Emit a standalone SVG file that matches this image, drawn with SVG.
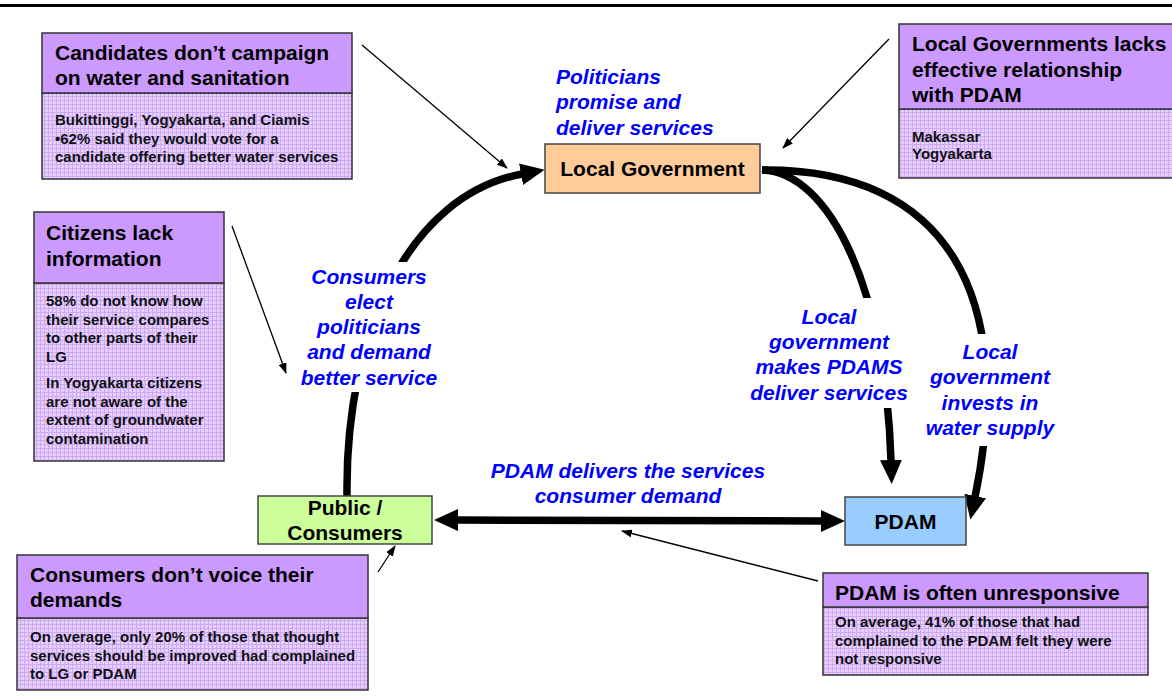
<svg xmlns="http://www.w3.org/2000/svg" width="1172" height="700" viewBox="0 0 1172 700">
  <style>
    .hdr { fill: #CC99FF; stroke: #333; stroke-width: 1.5; }
    .body { fill: url(#grid); stroke: #333; stroke-width: 1.5; }
    .ttl { font-family: "Liberation Sans", Arial, sans-serif; font-weight: bold; font-size: 21px; fill: #000; }
    .txt { font-family: "Liberation Sans", Arial, sans-serif; font-weight: bold; font-size: 15px; fill: #111; }
    .node { stroke: #444; stroke-width: 1.5; }
    .ntxt { font-family: "Liberation Sans", Arial, sans-serif; font-weight: bold; font-size: 21px; fill: #000; text-anchor: middle; }
    .lbl { font-family: "Liberation Sans", Arial, sans-serif; font-weight: bold; font-style: italic; font-size: 21px; fill: #0000FF; }
    .mid { text-anchor: middle; }
    .thick { fill: none; stroke: #000; stroke-width: 7.5; }
    .thin { fill: none; stroke: #000; stroke-width: 1.3; marker-end: url(#tip); }
    .bg { fill: #fff; }
  </style>
  <defs>
    <pattern id="grid" width="4" height="4" patternUnits="userSpaceOnUse">
      <rect width="4" height="4" fill="#E6CFFF"/>
      <path d="M0 0.5H4M0.5 0V4" stroke="#CDA9F4" stroke-width="1"/>
    </pattern>
    <marker id="head" markerUnits="userSpaceOnUse" markerWidth="24" markerHeight="22" viewBox="0 0 24 22" refX="1" refY="11" orient="auto-start-reverse">
      <path d="M0 0L24 11L0 22z" fill="#000"/>
    </marker>
    <marker id="tip" markerUnits="userSpaceOnUse" markerWidth="11" markerHeight="8" viewBox="0 0 11 8" refX="10" refY="4" orient="auto">
      <path d="M0 0L11 4L0 8z" fill="#000"/>
    </marker>
  </defs>

  <!-- title rule -->
  <line x1="0" y1="5.5" x2="1172" y2="5.5" stroke="#000" stroke-width="3"/>

  <!-- connectors -->
  <g id="connectors">
    <path class="thick" d="M347 496C345 330 410 195 522 174" marker-end="url(#head)"/>
    <path class="thick" d="M762 170C830 172 886 290 891 461" marker-end="url(#head)"/>
    <path class="thick" d="M762 170C950 168 1016 300 975 497" marker-end="url(#head)"/>
    <path class="thick" d="M457 520L822 521" marker-start="url(#head)" marker-end="url(#head)"/>
    <path class="thin" d="M362 45L507 168"/>
    <path class="thin" d="M889 39L783 148"/>
    <path class="thin" d="M232 226L286 373"/>
    <path class="thin" d="M378 572L395 546"/>
    <path class="thin" d="M818 581L622 531"/>
  </g>

  <!-- flow labels -->
  <g id="lbl-politicians">
    <text class="lbl" x="556" y="84">Politicians</text>
    <text class="lbl" x="556" y="109">promise and</text>
    <text class="lbl" x="556" y="135">deliver services</text>
  </g>
  <g id="lbl-elect">
    <rect class="bg" x="298" y="262" width="144" height="130"/>
    <text class="lbl mid" x="369" y="284">Consumers</text>
    <text class="lbl mid" x="369" y="309">elect</text>
    <text class="lbl mid" x="369" y="334">politicians</text>
    <text class="lbl mid" x="369" y="359">and demand</text>
    <text class="lbl mid" x="369" y="385">better service</text>
  </g>
  <g id="lbl-makes">
    <rect class="bg" x="748" y="298" width="164" height="110"/>
    <text class="lbl mid" x="829" y="324">Local</text>
    <text class="lbl mid" x="829" y="349">government</text>
    <text class="lbl mid" x="829" y="374">makes PDAMS</text>
    <text class="lbl mid" x="829" y="400">deliver services</text>
  </g>
  <g id="lbl-invests">
    <rect class="bg" x="922" y="334" width="136" height="112"/>
    <text class="lbl mid" x="990" y="359">Local</text>
    <text class="lbl mid" x="990" y="384">government</text>
    <text class="lbl mid" x="990" y="410">invests in</text>
    <text class="lbl mid" x="990" y="435">water supply</text>
  </g>
  <g id="lbl-delivers">
    <text class="lbl mid" x="628" y="478">PDAM delivers the services</text>
    <text class="lbl mid" x="628" y="503">consumer demand</text>
  </g>

  <!-- actors -->
  <g id="local-government">
    <rect class="node" x="545" y="144" width="215" height="49" fill="#FFCC99"/>
    <text class="ntxt" x="652.5" y="176">Local Government</text>
  </g>
  <g id="public-consumers">
    <rect class="node" x="258" y="496" width="174" height="48" fill="#CCFF99"/>
    <text class="ntxt" x="345" y="515">Public /</text>
    <text class="ntxt" x="345" y="540">Consumers</text>
  </g>
  <g id="pdam">
    <rect class="node" x="845" y="497" width="121" height="48" fill="#99CCFF"/>
    <text class="ntxt" x="905.5" y="529">PDAM</text>
  </g>

  <!-- issue callouts -->
  <g id="issue-candidates">
    <rect class="body" x="42" y="93" width="310" height="86"/>
    <rect class="hdr" x="42" y="33" width="310" height="60"/>
    <text class="ttl" x="55" y="60">Candidates don’t campaign</text>
    <text class="ttl" x="55" y="85">on water and sanitation</text>
    <text class="txt" x="55" y="125">Bukittinggi, Yogyakarta, and Ciamis</text>
    <text class="txt" x="55" y="143.5">•62% said they would vote for a</text>
    <text class="txt" x="55" y="162">candidate offering better water services</text>
  </g>
  <g id="issue-relationship">
    <rect class="body" x="899" y="109" width="285" height="69"/>
    <rect class="hdr" x="899" y="24" width="285" height="85"/>
    <text class="ttl" x="912" y="51">Local Governments lacks</text>
    <text class="ttl" x="912" y="77">effective relationship</text>
    <text class="ttl" x="912" y="102">with PDAM</text>
    <text class="txt" x="912" y="142">Makassar</text>
    <text class="txt" x="912" y="159">Yogyakarta</text>
  </g>
  <g id="issue-information">
    <rect class="body" x="34" y="283" width="190" height="178"/>
    <rect class="hdr" x="34" y="212" width="190" height="71"/>
    <text class="ttl" x="46" y="240">Citizens lack</text>
    <text class="ttl" x="46" y="266">information</text>
    <text class="txt" x="46" y="306">58% do not know how</text>
    <text class="txt" x="46" y="324.5">their service compares</text>
    <text class="txt" x="46" y="343">to other parts of their</text>
    <text class="txt" x="46" y="361.5">LG</text>
    <text class="txt" x="46" y="388">In Yogyakarta citizens</text>
    <text class="txt" x="46" y="406.5">are not aware of the</text>
    <text class="txt" x="46" y="425">extent of groundwater</text>
    <text class="txt" x="46" y="443.5">contamination</text>
  </g>
  <g id="issue-voice">
    <rect class="body" x="17" y="618" width="351" height="72"/>
    <rect class="hdr" x="17" y="555" width="351" height="63"/>
    <text class="ttl" x="30" y="582">Consumers don’t voice their</text>
    <text class="ttl" x="30" y="607">demands</text>
    <text class="txt" x="30" y="642">On average, only 20% of those that thought</text>
    <text class="txt" x="30" y="661">services should be improved had complained</text>
    <text class="txt" x="30" y="679">to LG or PDAM</text>
  </g>
  <g id="issue-unresponsive">
    <rect class="body" x="823" y="607" width="325" height="68"/>
    <rect class="hdr" x="823" y="573" width="325" height="34"/>
    <text class="ttl" x="835" y="599.5">PDAM is often unresponsive</text>
    <text class="txt" x="835" y="627">On average, 41% of those that had</text>
    <text class="txt" x="835" y="646">complained to the PDAM felt they were</text>
    <text class="txt" x="835" y="664">not responsive</text>
  </g>
</svg>
